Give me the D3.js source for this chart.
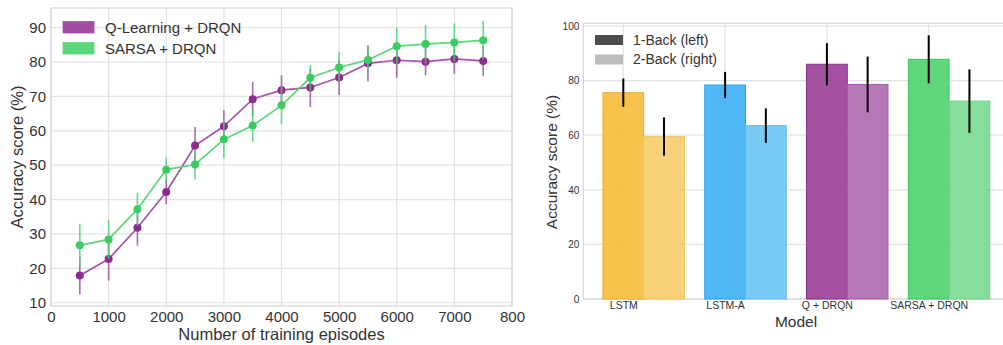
<!DOCTYPE html>
<html><head><meta charset="utf-8">
<script src="https://cdn.jsdelivr.net/npm/d3@7"></script>
<style>
html,body{margin:0;padding:0;background:#fff;}
svg{display:block;font-family:"Liberation Sans",Arial,sans-serif;}
</style></head>
<body><svg id="c" width="1003" height="345"></svg>
<script>
// ---- Left chart data ----
const episodes = [500,1000,1500,2000,2500,3000,3500,4000,4500,5000,5500,6000,6500,7000,7500];
const qValues  = [17.9,22.7,31.8,42.2,55.7,61.3,69.2,71.8,72.6,75.5,79.6,80.5,80.1,80.9,80.3];
const qErrors  = [5.5,6.3,5.2,3.6,5.4,4.7,5.0,4.3,5.7,5.1,5.3,5.1,4.0,4.4,4.3];
const sValues  = [26.7,28.4,37.2,48.7,50.2,57.5,61.5,67.4,75.4,78.4,80.6,84.6,85.2,85.7,86.3];
const sErrors  = [6.3,5.6,4.8,3.6,4.4,5.5,4.7,5.5,3.7,4.6,3.6,5.4,5.6,5.5,5.6];
const leftXTicks = [0,1000,2000,3000,4000,5000,6000,7000,8000];
const leftXTickLabels = ["0","1000","2000","3000","4000","5000","6000","7000","800"];
const leftYTicks = [10,20,30,40,50,60,70,80,90];
const lineSeriesNames = ["Q-Learning + DRQN","SARSA + DRQN"];

// ---- Right chart data ----
const models = ["LSTM","LSTM-A","Q + DRQN","SARSA + DRQN"];
const oneBack = [75.6,78.4,86.0,87.8];
const oneBackErr = [5.2,4.8,7.7,8.8];
const twoBack = [59.5,63.5,78.6,72.5];
const twoBackErr = [7.0,6.3,10.2,11.6];
const rightYTicks = [0,20,40,60,80,100];
const barLegend = ["1-Back (left)","2-Back (right)"];

const svg = d3.select("#c");
const gridC = "#e2e2e2", spineC = "#d6d6d6", textC = "#333";

// ================= LEFT =================
const L = {l:51, r:512, t:8, b:306};
const xL = d3.scaleLinear().domain([0,8000]).range([L.l,L.r]);
const yL = d3.scaleLinear().domain([9.05,95.7]).range([L.b,L.t]);
const gl = svg.append("g");
gl.append("g").selectAll("line").data(leftXTicks).join("line")
  .attr("x1",d=>xL(d)).attr("x2",d=>xL(d)).attr("y1",L.t).attr("y2",L.b)
  .attr("stroke",gridC).attr("stroke-width",1.2);
gl.append("g").selectAll("line").data(leftYTicks).join("line")
  .attr("x1",L.l).attr("x2",L.r).attr("y1",d=>yL(d)).attr("y2",d=>yL(d))
  .attr("stroke",gridC).attr("stroke-width",1.2);
gl.append("rect").attr("x",L.l).attr("y",L.t).attr("width",L.r-L.l).attr("height",L.b-L.t)
  .attr("fill","none").attr("stroke",spineC).attr("stroke-width",1.2);

const xAxL = d3.axisBottom(xL).tickValues(leftXTicks).tickSize(0).tickPadding(5)
  .tickFormat((d,i)=>leftXTickLabels[i]);
const gxl = gl.append("g").attr("transform",`translate(0,${L.b})`).call(xAxL);
gxl.select(".domain").remove();
gxl.selectAll("text").attr("fill",textC).style("font-size","15px");
const yAxL = d3.axisLeft(yL).tickValues(leftYTicks).tickSize(0).tickPadding(5);
const gyl = gl.append("g").attr("transform",`translate(${L.l},0)`).call(yAxL);
gyl.select(".domain").remove();
gyl.selectAll("text").attr("fill",textC).style("font-size","15px");

gl.append("text").attr("x",(L.l+L.r)/2).attr("y",339.5).attr("text-anchor","middle")
  .attr("fill",textC).style("font-size","16.5px").text("Number of training episodes");
gl.append("text").attr("transform",`translate(23,${(L.t+L.b)/2}) rotate(-90)`)
  .attr("text-anchor","middle").attr("fill",textC).style("font-size","16.5px").text("Accuracy score (%)");

const seriesL = [
  {vals:qValues, errs:qErrors, line:"#a655a6", mark:"#8f2a8f", err:"#a24fa2"},
  {vals:sValues, errs:sErrors, line:"#5cd67c", mark:"#3ccb62", err:"#4cd070"}
];
const lineGen = d3.line().x(d=>xL(d[0])).y(d=>yL(d[1]));
seriesL.forEach(s=>{
  const g = gl.append("g");
  const pts = episodes.map((e,i)=>[e,s.vals[i],s.errs[i]]);
  g.selectAll("line").data(pts).join("line")
    .attr("x1",d=>xL(d[0])).attr("x2",d=>xL(d[0]))
    .attr("y1",d=>yL(d[1]-d[2])).attr("y2",d=>yL(d[1]+d[2]))
    .attr("stroke",s.err).attr("stroke-width",1.6).attr("stroke-opacity",0.85);
  g.append("path").datum(pts).attr("d",lineGen).attr("fill","none")
    .attr("stroke",s.line).attr("stroke-width",1.7);
  g.selectAll("circle").data(pts).join("circle")
    .attr("cx",d=>xL(d[0])).attr("cy",d=>yL(d[1])).attr("r",4)
    .attr("fill",s.mark);
});
// legend
const legL = gl.append("g");
[["#a24ea4"],["#5cd67b"]].forEach((c,i)=>{
  legL.append("rect").attr("x",63).attr("y",21.5+i*21).attr("width",31).attr("height",11.5)
    .attr("fill",c[0]).attr("stroke",c[0]).attr("stroke-width",0.8);
  legL.append("text").attr("x",105).attr("y",27.5+i*21).attr("dy","0.35em")
    .attr("fill",textC).style("font-size","15px").text(lineSeriesNames[i]);
});

// ================= RIGHT =================
const R = {l:583.3, t:23.3, b:299};
const unit = 101.8, x0 = 623.3;
const xR = d3.scaleLinear().domain([-0.39,3.79]).range([x0-0.39*unit, x0+3.79*unit]);
const yR = d3.scaleLinear().domain([0,101]).range([R.b,R.t]);
const R_r = xR(3.79);
const gr = svg.append("g");
gr.append("g").selectAll("line").data(d3.range(models.length)).join("line")
  .attr("x1",d=>xR(d)).attr("x2",d=>xR(d)).attr("y1",R.t).attr("y2",R.b)
  .attr("stroke",gridC).attr("stroke-width",1.2);
gr.append("g").selectAll("line").data(rightYTicks).join("line")
  .attr("x1",R.l).attr("x2",R_r).attr("y1",d=>yR(d)).attr("y2",d=>yR(d))
  .attr("stroke",gridC).attr("stroke-width",1.2);
gr.append("rect").attr("x",R.l).attr("y",R.t).attr("width",R_r-R.l).attr("height",R.b-R.t)
  .attr("fill","none").attr("stroke",spineC).attr("stroke-width",1.2);

const yAxR = d3.axisLeft(yR).tickValues(rightYTicks).tickSize(0).tickPadding(4);
const gyr = gr.append("g").attr("transform",`translate(${R.l},0)`).call(yAxR);
gyr.select(".domain").remove();
gyr.selectAll("text").attr("fill",textC).style("font-size","10px");
const xAxR = d3.axisBottom(xR).tickValues(d3.range(models.length)).tickSize(0).tickPadding(3)
  .tickFormat(i=>models[i]);
const gxr = gr.append("g").attr("transform",`translate(0,${R.b})`).call(xAxR);
gxr.select(".domain").remove();
gxr.selectAll("text").attr("fill",textC).style("font-size","10.5px");

gr.append("text").attr("x",796).attr("y",326.5).attr("text-anchor","middle")
  .attr("fill",textC).style("font-size","15.5px").text("Model");
gr.append("text").attr("transform",`translate(557,162) rotate(-90)`)
  .attr("text-anchor","middle").attr("fill",textC).style("font-size","15.5px").text("Accuracy score (%)");

const c1 = ["#f6bd3a","#3cb0f4","#9a3e9a","#4fd16f"];
const c2 = ["#f7cd6a","#6cc4f6","#b068b0","#78dc8f"];
const edge1 = ["#eeb02a","#2aa3ec","#8a2a8a","#3cc45e"];
const edge2 = ["#f3c45a","#5cbcf2","#a75aa7","#6cd585"];
const bw = 0.4;
const barData = models.map((m,i)=>[
  {x:i-0.2, v:oneBack[i], e:oneBackErr[i], fill:c1[i], edge:edge1[i]},
  {x:i+0.2, v:twoBack[i], e:twoBackErr[i], fill:c2[i], edge:edge2[i]}
]).flat();
gr.append("g").selectAll("rect").data(barData).join("rect")
  .attr("x",d=>xR(d.x)).attr("width",d=>xR(d.x+bw)-xR(d.x))
  .attr("y",d=>yR(d.v)).attr("height",d=>yR(0)-yR(d.v))
  .attr("fill",d=>d.fill).attr("fill-opacity",0.9)
  .attr("stroke",d=>d.edge).attr("stroke-width",1);
gr.append("g").selectAll("line").data(barData).join("line")
  .attr("x1",d=>xR(d.x+bw/2)).attr("x2",d=>xR(d.x+bw/2))
  .attr("y1",d=>yR(d.v-d.e)).attr("y2",d=>yR(d.v+d.e))
  .attr("stroke","#000").attr("stroke-width",2);

const legR = gr.append("g");
["#4d4d4d","#bcbcbc"].forEach((c,i)=>{
  legR.append("rect").attr("x",595).attr("y",35+i*19.5).attr("width",28).attr("height",10)
    .attr("fill",c);
  legR.append("text").attr("x",633).attr("y",40+i*19.5).attr("dy","0.35em")
    .attr("fill",textC).style("font-size","14px").text(barLegend[i]);
});
</script></body></html>
